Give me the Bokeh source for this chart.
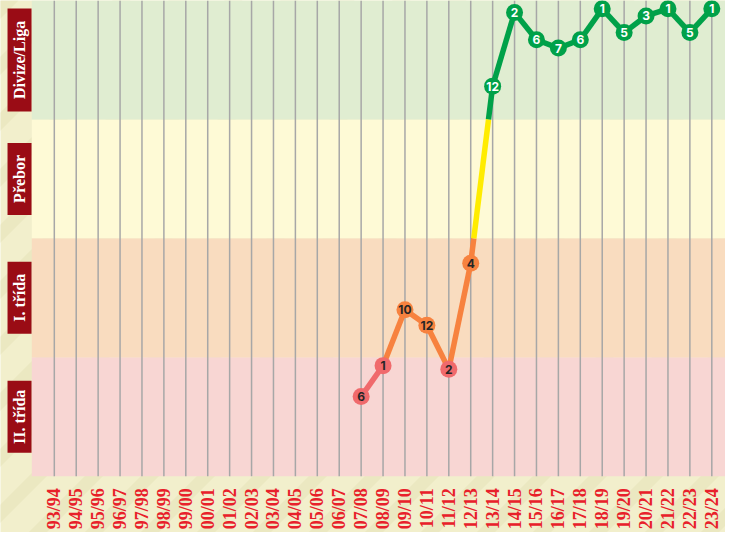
import numpy as np
from bokeh.plotting import figure
from bokeh.models import ColumnDataSource, Range1d
from bokeh.core.properties import value
from bokeh.embed import file_html
from bokeh.resources import INLINE

# ---- data ----
seasons = ["93/94", "94/95", "95/96", "96/97", "97/98", "98/99", "99/00", "00/01",
           "01/02", "02/03", "03/04", "04/05", "05/06", "06/07", "07/08", "08/09",
           "09/10", "10/11", "11/12", "12/13", "13/14", "14/15", "15/16", "16/17",
           "17/18", "18/19", "19/20", "20/21", "21/22", "22/23", "23/24"]
leagues = ["II. třída", "I. třída", "Přebor", "Divize/Liga"]
club_seasons = ["07/08", "08/09", "09/10", "10/11", "11/12", "12/13", "13/14", "14/15",
                "15/16", "16/17", "17/18", "18/19", "19/20", "20/21", "21/22", "22/23", "23/24"]
places = [6, 1, 10, 12, 2, 4, 12, 2, 6, 7, 6, 1, 5, 3, 1, 5, 1]
# vertical position in league-band units (0-1 II. třída, 1-2 I. třída, 2-3 Přebor, 3-4 Divize/Liga)
heights = [0.67, 0.93, 1.40, 1.27, 0.90, 1.79, 3.28, 3.90, 3.67, 3.60, 3.67,
           3.93, 3.73, 3.87, 3.93, 3.73, 3.93]

# ---- styles ----
W, H = 725, 532
X0, X1 = -2.455, 30.625
Y0, Y1 = -0.473, 4.0
BG = "#f2efcc"
STRIPE = "#e8e6bc"
band_colors = ["#f8d6d3", "#f9dcbf", "#fefad6", "#e0edd1"]
line_colors = ["#f06a6c", "#f7823f", "#ffec00", "#00a149"]
num_text_colors = ["#262626", "#262626", "#262626", "#ffffff"]
label_box_heights = [72, 72, 72, 103]
RED = "#9a0c15"

p = figure(width=W, height=H, x_range=Range1d(X0, X1), y_range=Range1d(Y0, Y1),
           output_backend="svg", toolbar_location=None, min_border=0)
p.axis.visible = False
p.grid.visible = False
p.outline_line_color = None
p.background_fill_color = BG
p.border_fill_color = BG
p.min_border_left = p.min_border_right = p.min_border_top = p.min_border_bottom = 0

# diagonal background stripes
ppx = W / (X1 - X0)
ppy = H / (Y1 - Y0)
period, sw = 56, 18
sxs, sys_ = [], []
for c in range(-H, W + period, period):
    px = np.array([c, c + sw, c + sw + H, c + H], dtype=float)
    py = np.array([0, 0, H, H], dtype=float)
    sxs.append(list(X0 + px / ppx))
    sys_.append(list(Y0 + py / ppy))
p.patches(sxs, sys_, fill_color=STRIPE, fill_alpha=0.7, line_color=None)

# league bands
left_edge = -1.027
nb = len(leagues)
p.quad(left=left_edge, right=X1 + 1, bottom=list(range(nb)), top=list(range(1, nb + 1)),
       fill_color=band_colors, line_color=None)

# vertical grid lines
idx = list(range(len(seasons)))
p.segment(x0=idx, y0=0, x1=idx, y1=nb, line_color="#a7a7a7", line_width=1.5)

# league labels
label_x = left_edge - 0.56
p.rect(x=label_x, y=[k + 0.5 for k in range(nb)], width=24, height=label_box_heights,
       width_units="screen", height_units="screen", fill_color=RED, line_color=None)
p.text(x=label_x, y=[k + 0.5 for k in range(nb)], text=leagues, angle=np.pi / 2,
       text_align="center", text_baseline="middle", text_color="white",
       text_font=value("Liberation Serif"), text_font_style="bold", text_font_size="16px")

# season tick labels
p.text(x=idx, y=-0.10, text=seasons, angle=np.pi / 2, text_align="right",
       text_baseline="middle", text_color="#e8202a", text_font=value("Liberation Serif"),
       text_font_style="bold", text_font_size="18px")

# line pieces, split at the Přebor / Divize boundaries
xs_pts = [seasons.index(s) for s in club_seasons]
seg_xs, seg_ys, seg_cols = [], [], []
for i in range(len(xs_pts) - 1):
    xa, ya, xb, yb = xs_pts[i], heights[i], xs_pts[i + 1], heights[i + 1]
    cuts = [0.0, 1.0]
    for b in (2, 3):
        if (ya - b) * (yb - b) < 0:
            cuts.append((b - ya) / (yb - ya))
    cuts = sorted(cuts)
    for t0, t1 in zip(cuts[:-1], cuts[1:]):
        px0, py0 = xa + (xb - xa) * t0, ya + (yb - ya) * t0
        px1, py1 = xa + (xb - xa) * t1, ya + (yb - ya) * t1
        seg_xs.append([px0, px1])
        seg_ys.append([py0, py1])
        seg_cols.append(line_colors[min(3, int((py0 + py1) / 2))])
p.multi_line(seg_xs, seg_ys, line_color=seg_cols, line_width=5.5, line_cap="butt")

band_of = [min(3, int(h)) for h in heights]
src = ColumnDataSource(dict(
    x=xs_pts, y=heights, t=[str(v) for v in places],
    fc=[line_colors[b] for b in band_of], tc=[num_text_colors[b] for b in band_of]))
p.scatter("x", "y", source=src, size=17, fill_color="fc", line_color=None)
p.text("x", "y", text="t", source=src, text_align="center", text_baseline="middle",
       text_color="tc", text_font=value("Inter"), text_font_style="bold",
       text_font_size="12px")

open("out.html", "w").write(file_html(p, INLINE))
